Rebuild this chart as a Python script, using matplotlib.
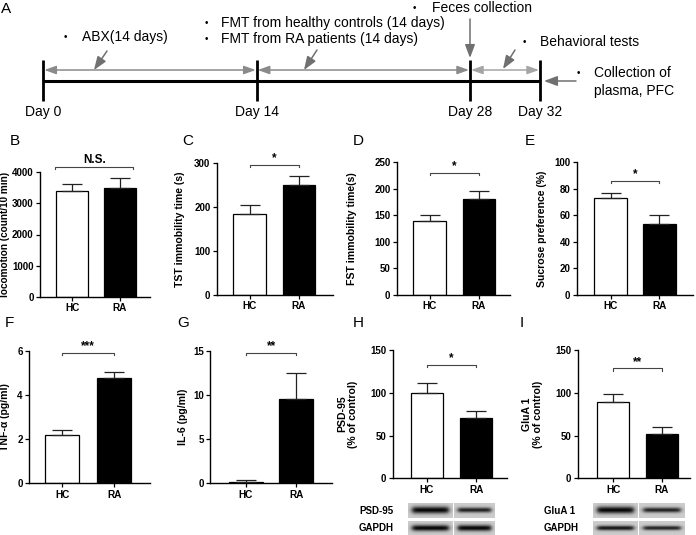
import numpy as np
import matplotlib
matplotlib.use("Agg")
import matplotlib.pyplot as plt

plt.rcParams['font.family'] = ['Liberation Sans', 'DejaVu Sans']

# ---- data ----
groups = ['HC', 'RA']

locomotion = [3380, 3500]
locomotion_err = [230, 300]
tst = [183, 249]
tst_err = [20, 21]
fst = [140, 180]
fst_err = [11, 15]
sucrose = [72.8, 53.3]
sucrose_err = [3.7, 6.5]
tnf = [2.18, 4.77]
tnf_err = [0.24, 0.30]
il6 = [0.2, 9.55]
il6_err = [0.2, 2.9]
psd95 = [100, 70]
psd95_err = [11, 9]
glua1 = [88.8, 52]
glua1_err = [9.5, 7.5]

days = [0, 14, 28, 32]

# western blot band strengths (HC, RA)
psd95_bands = [1.0, 0.72]
gapdh_h_bands = [1.0, 1.0]
glua1_bands = [1.0, 0.72]
gapdh_i_bands = [0.78, 0.72]

W, H = 696, 535
fig = plt.figure(figsize=(W / 100, H / 100), dpi=100)


def px_axes(x0, y0, x1, y1):
    return fig.add_axes([x0 / W, 1 - y1 / H, (x1 - x0) / W, (y1 - y0) / H])


# overlay in pixel coordinates for the timeline and panel letters
ov = fig.add_axes([0, 0, 1, 1])
ov.set_xlim(0, W)
ov.set_ylim(H, 0)
ov.axis('off')

# ---- panel A: timeline ----
day_x = [43.3, 256.7, 470, 540]
tl_y = 81
ov.plot([day_x[0], day_x[-1]], [tl_y, tl_y], color='black', lw=2.2, solid_capstyle='butt')
for d, x in zip(days, day_x):
    ov.plot([x, x], [60, 101], color='black', lw=2.0, solid_capstyle='butt')
    ov.text(x, 112, 'Day %d' % d, fontsize=10, ha='center', va='center')

for i in range(len(day_x) - 1):
    c = '#8a8a8a' if i < 2 else '#a5a5a5'
    ov.annotate('', xy=(day_x[i + 1] - 1, 70), xytext=(day_x[i] + 1, 70),
                arrowprops=dict(arrowstyle='<|-|>,head_length=0.7,head_width=0.25',
                                color=c, lw=1.1, shrinkA=0, shrinkB=0, mutation_scale=10))

arrow_kw = dict(arrowstyle='-|>,head_length=0.8,head_width=0.3', color='#707070', lw=1.1,
                shrinkA=0, shrinkB=0, mutation_scale=10)
ov.annotate('', xy=(94, 70), xytext=(107, 51), arrowprops=arrow_kw)
ov.annotate('', xy=(304, 70), xytext=(317, 50), arrowprops=arrow_kw)
ov.annotate('', xy=(470, 58), xytext=(470, 19), arrowprops=arrow_kw)
ov.annotate('', xy=(503, 69), xytext=(515, 50), arrowprops=arrow_kw)
ov.annotate('', xy=(544, 81), xytext=(576, 81), arrowprops=arrow_kw)

notes = [
    (65, 82, 37, 'ABX(14 days)'),
    (206, 221, 23, 'FMT from healthy controls (14 days)'),
    (206, 221, 39, 'FMT from RA patients (14 days)'),
    (414, 432, 8, 'Feces collection'),
    (524, 540, 42, 'Behavioral tests'),
    (578, 594, 73, 'Collection of'),
]
for bx, tx, ty, s in notes:
    ov.text(bx, ty, '\u2022', fontsize=7, ha='center', va='center')
    ov.text(tx, ty, s, fontsize=10, ha='left', va='center')
ov.text(594, 91, 'plasma, PFC', fontsize=10, ha='left', va='center')

for lab, x, y in [('A', 1, 9), ('B', 10, 141), ('C', 182, 141), ('D', 353, 141),
                  ('E', 525, 141), ('F', 5, 323), ('G', 177, 323), ('H', 353, 323),
                  ('I', 520, 323)]:
    ov.text(x, y, lab, fontsize=11, ha='left', va='center')


# ---- bar panels ----
def bar_panel(rect, xlim, ylim, yticks, means, errs, ylabel, label_x,
              sig, sig_y, sig_span, width=0.66, label_size=7.6):
    ax = px_axes(*rect)
    x = np.arange(len(groups))
    ax.bar(x, means, width=width, color=['white', 'black'], edgecolor='black',
           linewidth=0.9, zorder=2)
    ax.errorbar(x, means, yerr=[np.zeros(len(errs)), errs], fmt='none',
                ecolor='#222222', elinewidth=0.9, capsize=7, capthick=0.9, zorder=3)
    ax.set_xlim(*xlim)
    ax.set_ylim(*ylim)
    ax.set_yticks(yticks)
    ax.set_xticks(x)
    ax.set_xticklabels(groups, fontsize=7.2, fontweight='bold')
    for t in ax.get_yticklabels():
        t.set_fontsize(7)
        t.set_fontweight('bold')
    ax.tick_params(axis='both', length=3, width=0.9, pad=1.5)
    for side in ['top', 'right']:
        ax.spines[side].set_visible(False)
    for side in ['left', 'bottom']:
        ax.spines[side].set_linewidth(1.0)
    ax.set_ylabel(ylabel, fontsize=label_size, fontweight='bold', linespacing=1.1)
    ax.yaxis.set_label_coords(label_x, 0.5)
    ax.set_facecolor('none')

    x0, x1 = sig_span
    tick = ylim[1] * 0.018
    ax.plot([x0, x0, x1, x1], [sig_y - tick, sig_y, sig_y, sig_y - tick],
            color='#444444', lw=0.8, clip_on=False)
    ax.text((x0 + x1) / 2, sig_y + ylim[1] * 0.005, sig, fontsize=8.5,
            fontweight='bold', ha='center', va='bottom')
    return ax


bar_panel((40, 172, 150, 297), (-0.667, 1.625), (0, 4000), [0, 1000, 2000, 3000, 4000],
          locomotion, locomotion_err, 'locomotion (count/10 min)', -0.27,
          'N.S.', 4170, (-0.35, 1.28), label_size=7.2)
bar_panel((216.7, 162.7, 333, 295), (-0.663, 1.687), (0, 300), [0, 100, 200, 300],
          tst, tst_err, 'TST immobility time (s)', -0.273, '*', 295, (0, 1))
bar_panel((396.7, 162, 510, 295), (-0.663, 1.626), (0, 250), [0, 50, 100, 150, 200, 250],
          fst, fst_err, 'FST immobility time(s)', -0.35, '*', 230, (0, 1))
bar_panel((576.7, 162, 693, 295), (-0.69, 1.684), (0, 100), [0, 20, 40, 60, 80, 100],
          sucrose, sucrose_err, 'Sucrose preference (%)', -0.255, '*', 85.7, (0, 1))
bar_panel((29, 351, 150, 483.3), (-0.635, 1.69), (0, 6), [0, 2, 4, 6],
          tnf, tnf_err, 'TNF-\u03b1 (pg/ml)', -0.155, '***', 5.92, (0, 1), width=0.654)
bar_panel((210, 351, 331.7, 483.3), (-0.71, 1.70), (0, 15), [0, 5, 10, 15],
          il6, il6_err, 'IL-6 (pg/ml)', -0.18, '**', 14.8, (0, 1), width=0.67)
bar_panel((392.7, 350, 507, 478.3), (-0.69, 1.62), (0, 150), [0, 50, 100, 150],
          psd95, psd95_err, 'PSD-95\n(% of control)', -0.30, '*', 132.5, (0, 1), width=0.65)
bar_panel((577.7, 350, 690, 478.3), (-0.72, 1.57), (0, 150), [0, 50, 100, 150],
          glua1, glua1_err, 'GluA 1\n(% of control)', -0.31, '**', 128.6, (0, 1), width=0.65)


# ---- western blot strips ----
def band_image(strength, nx=90, ny=24):
    xs = np.linspace(-1, 1, nx)
    ys = np.linspace(-1, 1, ny)
    X, Y = np.meshgrid(xs, ys)
    hx = 1.0 / (1.0 + np.exp((np.abs(X) - 0.82) / 0.06))
    vy = np.exp(-(Y / (0.45 * strength)) ** 2)
    img = 0.80 - 0.78 * min(strength + 0.15, 1.0) * hx * vy
    return np.clip(img, 0, 1)


def blot_row(lanes_x, y0, y1, strengths, label, label_x):
    for (lx0, lx1), s in zip(lanes_x, strengths):
        ax = px_axes(lx0, y0, lx1, y1)
        ax.imshow(band_image(s), cmap='gray', vmin=0, vmax=1, aspect='auto',
                  interpolation='bilinear')
        ax.axis('off')
    ov.text(label_x, (y0 + y1) / 2, label, fontsize=7, fontweight='bold',
            ha='left', va='center')


h_lanes = [(407.7, 452.7), (453.5, 494.3)]
i_lanes = [(592.7, 637.7), (638.5, 684.3)]
blot_row(h_lanes, 502.7, 518.3, psd95_bands, 'PSD-95', 359)
blot_row(h_lanes, 521, 535, gapdh_h_bands, 'GAPDH', 359)
blot_row(i_lanes, 502.7, 518.3, glua1_bands, 'GluA 1', 544)
blot_row(i_lanes, 521, 535, gapdh_i_bands, 'GAPDH', 544)

fig.savefig('out.png', dpi=100)
